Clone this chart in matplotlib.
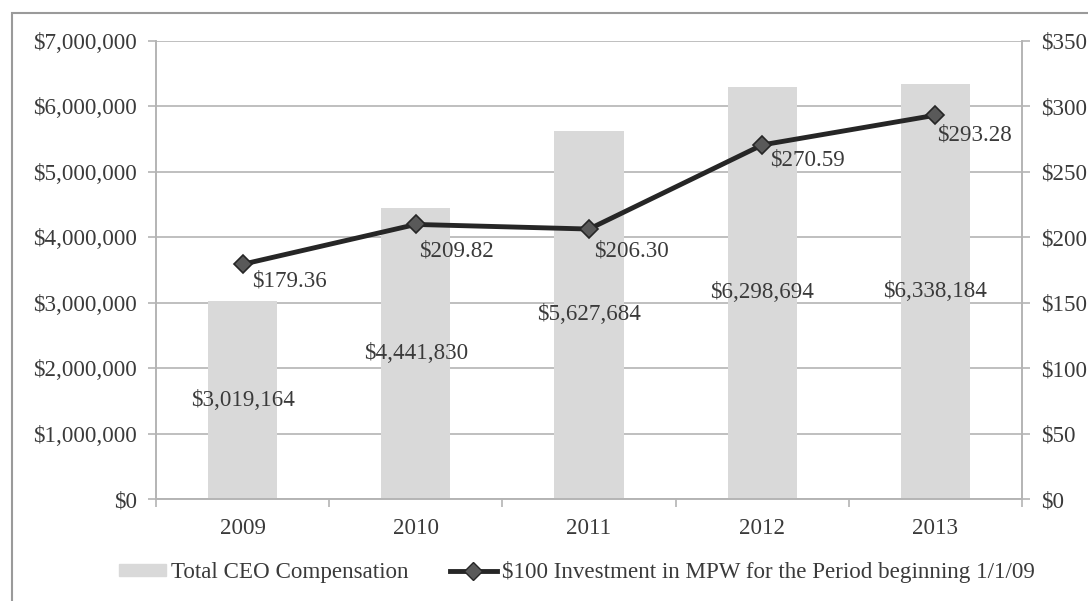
import matplotlib.pyplot as plt
import numpy as np
from matplotlib.patches import Rectangle
from matplotlib.ticker import FuncFormatter

years = ["2009", "2010", "2011", "2012", "2013"]
ceo_comp = [3019164, 4441830, 5627684, 6298694, 6338184]
investment = [179.36, 209.82, 206.30, 270.59, 293.28]

# label nudges (pixels right / down from each marker), placed by hand in the original
label_dx = [9, 3, 5, 8, 2]
label_dy = [17, 27, 22, 15, 20]

plt.rcParams["font.family"] = ["Liberation Serif", "DejaVu Serif"]
text_col = "#3a3a3a"
grid_col = "#b4b4b4"
fs = 16.6

fig = plt.figure(figsize=(10.88, 6.01), dpi=100)
# outer frame (only left and top edges fall inside the picture)
fig.patches.append(Rectangle((0.011, -0.05), 1.05, 1.028, transform=fig.transFigure,
                             fill=False, edgecolor="#9a9a9a", linewidth=1.5))
ax = fig.add_axes([0.1434, 0.1697, 0.7960, 0.7621])
ax2 = ax.twinx()

x = np.arange(len(years))
ax.bar(x, ceo_comp, width=0.4, color="#d9d9d9", zorder=2)
ax.set_ylim(0, 7_000_000)
ax.set_xlim(-0.5, len(years) - 0.5)
ax.set_yticks(np.arange(0, 7_000_001, 1_000_000))
ax.yaxis.set_major_formatter(FuncFormatter(lambda v, p: f"${v:,.0f}"))
ax.grid(axis="y", color=grid_col, linewidth=1.2, zorder=0)
ax.set_axisbelow(True)

ax.set_xticks(x)
ax.set_xticklabels(years)
ax.set_xticks(np.arange(-0.5, len(years)), minor=True)
ax.tick_params(axis="x", which="major", length=0, pad=14)
ax.tick_params(axis="x", which="minor", length=6, color=grid_col, width=1.2)
ax.tick_params(axis="y", length=6, color=grid_col, width=1.2, pad=8)
ax.tick_params(labelsize=fs, labelcolor=text_col)

for a in (ax, ax2):
    a.spines["top"].set_visible(False)
    for side in ["left", "right", "bottom"]:
        a.spines[side].set_color(grid_col)
        a.spines[side].set_linewidth(1.2)

for xi, v in zip(x, ceo_comp):
    ax.text(xi, v / 2, f"${v:,.0f}", ha="center", va="center",
            fontsize=fs, color=text_col, zorder=3)

ax2.plot(x, investment, color="#262626", linewidth=3.5, marker="D",
         markersize=9, markerfacecolor="#595959", markeredgecolor="#262626",
         markeredgewidth=1.2, zorder=4)
ax2.set_ylim(0, 350)
ax2.set_yticks(np.arange(0, 351, 50))
ax2.yaxis.set_major_formatter(FuncFormatter(lambda v, p: f"${v:,.0f}"))
ax2.tick_params(axis="y", length=6, color=grid_col, width=1.2, pad=8,
                labelsize=fs, labelcolor=text_col)

for xi, v, dx, dy in zip(x, investment, label_dx, label_dy):
    ax2.annotate(f"${v:.2f}", (xi, v), xytext=(dx * 0.72, -dy * 0.72),
                 textcoords="offset points", ha="left", va="center",
                 fontsize=fs, color=text_col, zorder=5)

h1 = Rectangle((0, 0), 1, 1, color="#d9d9d9")
h2, = ax2.plot([], [], color="#262626", linewidth=3.5, marker="D", markersize=9,
               markerfacecolor="#595959", markeredgecolor="#262626")
fig.legend([h1, h2], ["Total CEO Compensation",
                      "$100 Investment in MPW for the Period beginning 1/1/09"],
           loc="center", bbox_to_anchor=(0.53, 0.048), ncol=2, frameon=False,
           fontsize=fs, labelcolor=text_col, handlelength=2.05, handleheight=0.45,
           handletextpad=0.2, columnspacing=1.8)

fig.savefig("out.png", dpi=100)
